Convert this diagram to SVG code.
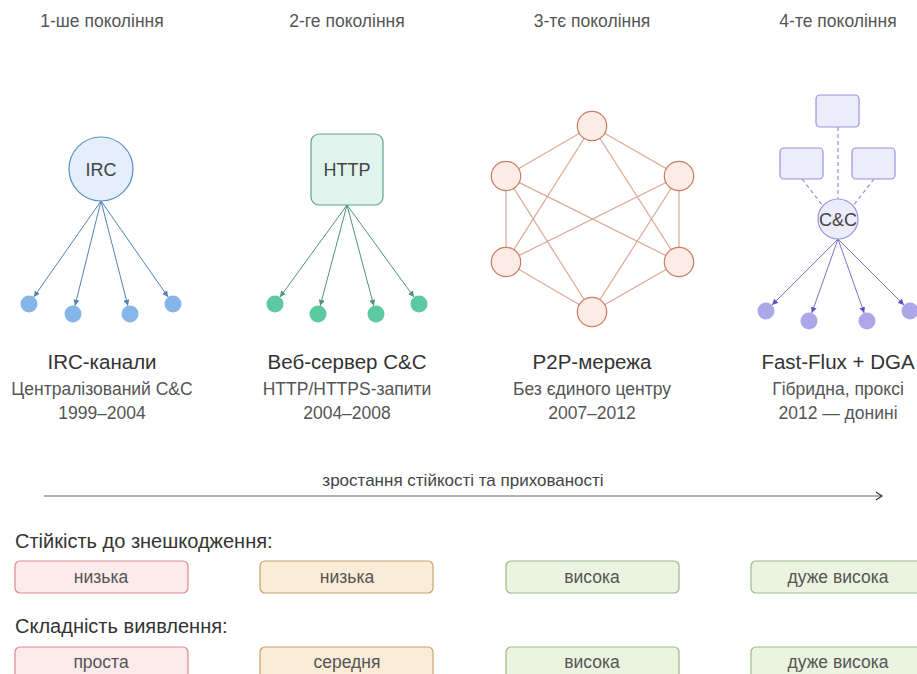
<svg xmlns="http://www.w3.org/2000/svg" width="917" height="674" viewBox="0 0 917 674">
  <style>
    text { font-family: "Liberation Sans", Arial, sans-serif; text-anchor: middle; }
    .gen { font-size: 17.5px; fill: #555; }
    .title { font-size: 20.5px; fill: #333; }
    .sub { font-size: 17.5px; fill: #555; }
    .lbl { font-size: 18px; fill: #444; }
    .row { font-size: 20px; fill: #333; text-anchor: start; }
    .chip { font-size: 17.5px; fill: #555; }
    .irc-link { stroke: #4f82b8; stroke-width: 1; fill: none; }
    .http-link { stroke: #4d9580; stroke-width: 1; fill: none; }
    .ff-link { stroke: #7b72cf; stroke-width: 1; fill: none; }
    .ff-dash { stroke: #9890da; stroke-width: 1.2; stroke-dasharray: 4 3; fill: none; }
    .p2p-link { stroke: #dba796; stroke-width: 1.2; fill: none; }
    .irc-leaf { fill: #86b5ea; }
    .http-leaf { fill: #5cc9a1; }
    .ff-leaf { fill: #ada7ea; }
    .peer { fill: #fbece6; stroke: #c97c62; stroke-width: 1.2; }
    .proxy { fill: #ececfb; stroke: #9a92da; stroke-width: 1.2; }
    .low { fill: #fcebea; stroke: #d98c8c; stroke-width: 1.2; }
    .mid { fill: #fbecd8; stroke: #c8a070; stroke-width: 1.2; }
    .high { fill: #eaf4e0; stroke: #9aba84; stroke-width: 1.2; }
  </style>
  <defs>
    <marker id="ah-irc" markerUnits="userSpaceOnUse" markerWidth="6" markerHeight="6" refX="6" refY="3" orient="auto">
      <path d="M0,0 L6,3 L0,6 z" fill="#4f82b8"/>
    </marker>
    <marker id="ah-http" markerUnits="userSpaceOnUse" markerWidth="6" markerHeight="6" refX="6" refY="3" orient="auto">
      <path d="M0,0 L6,3 L0,6 z" fill="#4d9580"/>
    </marker>
    <marker id="ah-ff" markerUnits="userSpaceOnUse" markerWidth="6" markerHeight="6" refX="6" refY="3" orient="auto">
      <path d="M0,0 L6,3 L0,6 z" fill="#5e56b8"/>
    </marker>
    <marker id="ah-axis" markerUnits="userSpaceOnUse" markerWidth="8" markerHeight="10" refX="7" refY="5" orient="auto">
      <path d="M1,1 L7,5 L1,9" fill="none" stroke="#333" stroke-width="1.2"/>
    </marker>
  </defs>

  <rect width="917" height="674" fill="#ffffff"/>

  <!-- generation headings -->
  <text class="gen" x="102" y="27">1-ше покоління</text>
  <text class="gen" x="347" y="27">2-ге покоління</text>
  <text class="gen" x="592" y="27">3-тє покоління</text>
  <text class="gen" x="838" y="27">4-те покоління</text>

  <!-- connectors -->
  <g id="connectors">
    <g id="irc-links" marker-end="url(#ah-irc)">
      <line class="irc-link" x1="101" y1="201" x2="33.9" y2="297"/>
      <line class="irc-link" x1="101" y1="201" x2="75" y2="305.7"/>
      <line class="irc-link" x1="101" y1="201" x2="127.9" y2="305.8"/>
      <line class="irc-link" x1="101" y1="201" x2="168.1" y2="297"/>
    </g>
    <g id="http-links" marker-end="url(#ah-http)">
      <line class="http-link" x1="347" y1="205" x2="280" y2="297.1"/>
      <line class="http-link" x1="347" y1="205" x2="320.2" y2="305.8"/>
      <line class="http-link" x1="347" y1="205" x2="373.8" y2="305.8"/>
      <line class="http-link" x1="347" y1="205" x2="414" y2="297.1"/>
    </g>
    <g id="p2p-links">
      <line class="p2p-link" x1="592" y1="126" x2="506" y2="176"/>
      <line class="p2p-link" x1="592" y1="126" x2="679" y2="176"/>
      <line class="p2p-link" x1="592" y1="126" x2="506" y2="262"/>
      <line class="p2p-link" x1="592" y1="126" x2="679" y2="262"/>
      <line class="p2p-link" x1="506" y1="176" x2="506" y2="262"/>
      <line class="p2p-link" x1="506" y1="176" x2="679" y2="262"/>
      <line class="p2p-link" x1="506" y1="176" x2="592" y2="312"/>
      <line class="p2p-link" x1="679" y1="176" x2="679" y2="262"/>
      <line class="p2p-link" x1="679" y1="176" x2="506" y2="262"/>
      <line class="p2p-link" x1="679" y1="176" x2="592" y2="312"/>
      <line class="p2p-link" x1="506" y1="262" x2="592" y2="312"/>
      <line class="p2p-link" x1="679" y1="262" x2="592" y2="312"/>
    </g>
    <g id="proxy-links">
      <line class="ff-dash" x1="838" y1="127" x2="838" y2="199"/>
      <line class="ff-dash" x1="802" y1="179" x2="823" y2="206"/>
      <line class="ff-dash" x1="874" y1="179" x2="853" y2="206"/>
    </g>
    <g id="ff-links" marker-end="url(#ah-ff)">
      <line class="ff-link" x1="838" y1="239" x2="772" y2="305"/>
      <line class="ff-link" x1="838" y1="239" x2="811.8" y2="313"/>
      <line class="ff-link" x1="838" y1="239" x2="864.2" y2="313"/>
      <line class="ff-link" x1="838" y1="239" x2="904" y2="305"/>
    </g>
    <line id="axis" x1="44" y1="496" x2="882" y2="496" stroke="#666" stroke-width="1.2" marker-end="url(#ah-axis)"/>
  </g>

  <!-- generation 1: IRC -->
  <g id="irc">
    <circle cx="101" cy="169" r="32" fill="#e4effb" stroke="#5a8fc8" stroke-width="1.2"/>
    <text class="lbl" x="101" y="175.5">IRC</text>
  </g>
  <g id="irc-bots">
    <circle class="irc-leaf" cx="29" cy="304" r="8.5"/>
    <circle class="irc-leaf" cx="73" cy="314" r="8.5"/>
    <circle class="irc-leaf" cx="130" cy="314" r="8.5"/>
    <circle class="irc-leaf" cx="173" cy="304" r="8.5"/>
  </g>

  <!-- generation 2: HTTP -->
  <g id="http">
    <rect x="311" y="134" width="72" height="71" rx="8" fill="#e0f4ed" stroke="#62a18b" stroke-width="1.2"/>
    <text class="lbl" x="347" y="175.5">HTTP</text>
  </g>
  <g id="http-bots">
    <circle class="http-leaf" cx="275" cy="304" r="8.5"/>
    <circle class="http-leaf" cx="318" cy="314" r="8.5"/>
    <circle class="http-leaf" cx="376" cy="314" r="8.5"/>
    <circle class="http-leaf" cx="419" cy="304" r="8.5"/>
  </g>

  <!-- generation 3: P2P peers -->
  <g id="p2p">
    <circle class="peer" cx="592" cy="126" r="14.7"/>
    <circle class="peer" cx="506" cy="176" r="14.7"/>
    <circle class="peer" cx="679" cy="176" r="14.7"/>
    <circle class="peer" cx="506" cy="262" r="14.7"/>
    <circle class="peer" cx="679" cy="262" r="14.7"/>
    <circle class="peer" cx="592" cy="312" r="14.7"/>
  </g>

  <!-- generation 4: fast-flux proxies and C&C -->
  <g id="proxies">
    <rect class="proxy" x="816" y="95" width="43" height="32" rx="4"/>
    <rect class="proxy" x="780" y="148" width="43" height="31" rx="4"/>
    <rect class="proxy" x="852" y="148" width="43" height="31" rx="4"/>
  </g>
  <g id="ff-cc">
    <circle class="proxy" cx="838" cy="219" r="20"/>
    <text x="838" y="225.5" font-size="18" fill="#444">C&amp;C</text>
  </g>
  <g id="ff-bots">
    <circle class="ff-leaf" cx="766" cy="311" r="8.5"/>
    <circle class="ff-leaf" cx="809" cy="321" r="8.5"/>
    <circle class="ff-leaf" cx="867" cy="321" r="8.5"/>
    <circle class="ff-leaf" cx="910" cy="311" r="8.5"/>
  </g>

  <!-- captions -->
  <g id="captions">
    <text class="title" x="102" y="369">IRC-канали</text>
    <text class="sub" x="102" y="395">Централізований C&amp;C</text>
    <text class="sub" x="102" y="419">1999–2004</text>

    <text class="title" x="347" y="369">Веб-сервер C&amp;C</text>
    <text class="sub" x="347" y="395">HTTP/HTTPS-запити</text>
    <text class="sub" x="347" y="419">2004–2008</text>

    <text class="title" x="592" y="369">P2P-мережа</text>
    <text class="sub" x="592" y="395">Без єдиного центру</text>
    <text class="sub" x="592" y="419">2007–2012</text>

    <text class="title" x="838" y="369">Fast-Flux + DGA</text>
    <text class="sub" x="838" y="395">Гібридна, проксі</text>
    <text class="sub" x="838" y="419">2012 — донині</text>
  </g>

  <text x="463" y="486" font-size="17" fill="#444">зростання стійкості та прихованості</text>

  <!-- resilience row -->
  <text class="row" x="15" y="548">Стійкість до знешкодження:</text>
  <g id="res-1"><rect class="low" x="15" y="561" width="173" height="32" rx="5"/><text class="chip" x="101" y="583">низька</text></g>
  <g id="res-2"><rect class="mid" x="260" y="561" width="173" height="32" rx="5"/><text class="chip" x="347" y="583">низька</text></g>
  <g id="res-3"><rect class="high" x="506" y="561" width="173" height="32" rx="5"/><text class="chip" x="592" y="583">висока</text></g>
  <g id="res-4"><rect class="high" x="751" y="561" width="173" height="32" rx="5"/><text class="chip" x="838" y="583">дуже висока</text></g>

  <!-- detection row -->
  <text class="row" x="15" y="633">Складність виявлення:</text>
  <g id="det-1"><rect class="low" x="15" y="647" width="173" height="32" rx="5"/><text class="chip" x="101" y="668">проста</text></g>
  <g id="det-2"><rect class="mid" x="260" y="647" width="173" height="32" rx="5"/><text class="chip" x="347" y="668">середня</text></g>
  <g id="det-3"><rect class="high" x="506" y="647" width="173" height="32" rx="5"/><text class="chip" x="592" y="668">висока</text></g>
  <g id="det-4"><rect class="high" x="751" y="647" width="173" height="32" rx="5"/><text class="chip" x="838" y="668">дуже висока</text></g>
</svg>
